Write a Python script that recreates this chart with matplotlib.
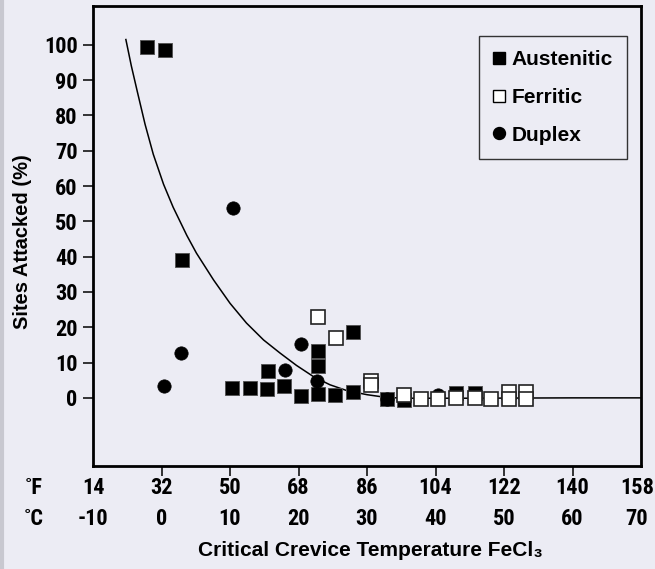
import matplotlib
matplotlib.use("Agg")
import matplotlib.pyplot as plt
from matplotlib import font_manager
from matplotlib.lines import Line2D
from matplotlib.transforms import blended_transform_factory, ScaledTranslation

# ---------------- data ----------------
aus_t = [-2.1, 0.5, 3.0, 10.3, 12.9, 15.4, 17.9, 15.5, 20.4, 22.8, 22.8, 22.8,
         25.3, 27.9, 27.9, 32.9, 35.35]
aus_v = [99.4, 98.6, 39.1, 2.9, 2.9, 2.4, 3.4, 7.6, 0.6, 1.0, 8.9, 13.3,
         0.8, 18.6, 1.8, -0.3, -0.6]
aus_t2 = [42.95, 45.75]
aus_v2 = [1.3, 1.3]

fer_t = [22.8, 25.5, 30.6, 30.6, 35.35, 37.85, 40.35, 42.95, 45.75, 48.15,
         50.7, 50.7, 53.15, 53.15]
fer_v = [22.9, 17.0, 4.9, 3.6, 0.7, -0.2, -0.4, -0.1, 0.0, -0.3,
         1.8, -0.3, 1.6, -0.2]

dup_t = [10.4, 2.9, 0.4, 18.0, 20.4, 22.7, 32.9, 40.35]
dup_v = [53.8, 12.6, 3.5, 7.9, 15.2, 4.8, -0.3, 0.9]

curve_t = [-5.2, -4.4, -3.5, -2.4, -1.2, 0.3, 1.7, 3.7, 5.1, 7.6, 10.0, 12.4,
           14.9, 17.3, 19.7, 22.2, 24.6, 27.0, 30.0, 32.9, 36.0, 45.0, 60.0, 70.0]
curve_v = [101.5, 94.0, 86.5, 77.5, 69.0, 60.5, 54.0, 46.0, 41.0, 33.4, 26.8, 21.2,
           16.4, 12.7, 9.2, 6.0, 3.7, 2.1, 0.9, 0.1, -0.1, -0.1, 0.0, 0.0]

y_ticks = [0, 10, 20, 30, 40, 50, 60, 70, 80, 90, 100]
c_ticks = [-10, 0, 10, 20, 30, 40, 50, 60, 70]
c_labels = ["-10", "0", "10", "20", "30", "40", "50", "60", "70"]
f_labels = ["14", "32", "50", "68", "86", "104", "122", "140", "158"]
legend_labels = ["Austenitic", "Ferritic", "Duplex"]

# ---------------- fonts ----------------
avail = {f.name for f in font_manager.fontManager.ttflist}
narrow = None
for cand in ["Liberation Sans Narrow", "DejaVu Sans Condensed", "Roboto Condensed",
             "Open Sans Condensed", "Noto Sans"]:
    if cand in avail:
        narrow = cand
        break
if narrow is None:
    narrow = "DejaVu Sans"
NARROW = [narrow, "DejaVu Sans"]
SANS = ["Liberation Sans", "DejaVu Sans"]

BG = "#ECECF4"
W, H = 655, 569
fig = plt.figure(figsize=(W / 100, H / 100), dpi=100, facecolor=BG)
ax = fig.add_axes([93 / W, 1 - 466 / H, (641 - 93) / W, (466 - 6) / H])
ax.set_facecolor(BG)

# left grey border of the figure
fig.add_artist(Line2D([2 / W, 2 / W], [0, 1], transform=fig.transFigure,
                      color="#C8C8D0", lw=3))

# curve
ax.plot(curve_t, curve_v, color="black", lw=1.1, zorder=2)

sq_ms = 9.8
ax.plot(aus_t, aus_v, ls="none", marker="s", ms=sq_ms, mfc="black",
        mec="#555555", mew=0.7, zorder=3)
ax.plot(aus_t2, aus_v2, ls="none", marker="s", ms=sq_ms, mfc="black",
        mec="#555555", mew=0.7, zorder=3)
ax.plot(dup_t, dup_v, ls="none", marker="o", ms=9.6, mfc="black",
        mec="black", mew=0.5, zorder=4)
ax.plot(fer_t, fer_v, ls="none", marker="s", ms=sq_ms, mfc="white",
        mec="#222222", mew=1.2, zorder=5)

ax.set_xlim(-10, 70)
ax.set_ylim(-19.3, 111.0)

for s in ax.spines.values():
    s.set_linewidth(2.0)
    s.set_color("black")

ax.set_yticks(y_ticks)
ax.set_yticklabels([str(v) for v in y_ticks], fontfamily=NARROW,
                   fontweight="bold", fontsize=16)
ax.tick_params(axis="y", direction="out", length=7, width=1.1, pad=4,
               colors="black")
ax.set_xticks(c_ticks[1:-1])
ax.set_xticklabels([])
ax.tick_params(axis="x", direction="out", length=7, width=1.1)

trans = blended_transform_factory(ax.transData, fig.transFigure)
for i, (c, fl, cl) in enumerate(zip(c_ticks, f_labels, c_labels)):
    tr = trans
    if i == len(c_ticks) - 1:
        tr = trans + ScaledTranslation(-4 / 100, 0, fig.dpi_scale_trans)
    ax.text(c, 1 - 488 / H, fl, transform=tr, ha="center", va="center",
            fontfamily=NARROW, fontweight="bold", fontsize=16, clip_on=False)
    ax.text(c, 1 - 519 / H, cl, transform=tr, ha="center", va="center",
            fontfamily=NARROW, fontweight="bold", fontsize=16, clip_on=False)

fig.text(34 / W, 1 - 488 / H, "˚F", ha="center", va="center",
         fontfamily=NARROW, fontweight="bold", fontsize=16)
fig.text(34 / W, 1 - 519 / H, "˚C", ha="center", va="center",
         fontfamily=NARROW, fontweight="bold", fontsize=16)

fig.text(370 / W, 1 - 551 / H, "Critical Crevice Temperature FeCl₃",
         ha="center", va="center", fontfamily=SANS, fontweight="bold",
         fontsize=15)
fig.text(23 / W, 1 - 242 / H, "Sites Attacked (%)", rotation=90,
         ha="center", va="center", fontfamily=SANS, fontweight="bold",
         fontsize=14.5)

handles = [
    Line2D([], [], ls="none", marker="s", ms=8.4, mfc="black", mec="black"),
    Line2D([], [], ls="none", marker="s", ms=8.4, mfc="white", mec="black", mew=1.0),
    Line2D([], [], ls="none", marker="o", ms=8.6, mfc="black", mec="black"),
]
leg = ax.legend(handles, legend_labels, loc="upper right",
                bbox_to_anchor=((627 - 93) / 548, (466 - 36) / 460),
                borderaxespad=0, frameon=True, fancybox=False,
                handlelength=0.6, handletextpad=0.3, labelspacing=0.9,
                borderpad=0.68, prop={"family": SANS, "weight": "bold", "size": 15})
leg.get_frame().set_edgecolor("#333333")
leg.get_frame().set_linewidth(1.0)
leg.get_frame().set_facecolor(BG)
leg.get_frame().set_alpha(1)

fig.savefig("out.png", dpi=100, facecolor=BG)
